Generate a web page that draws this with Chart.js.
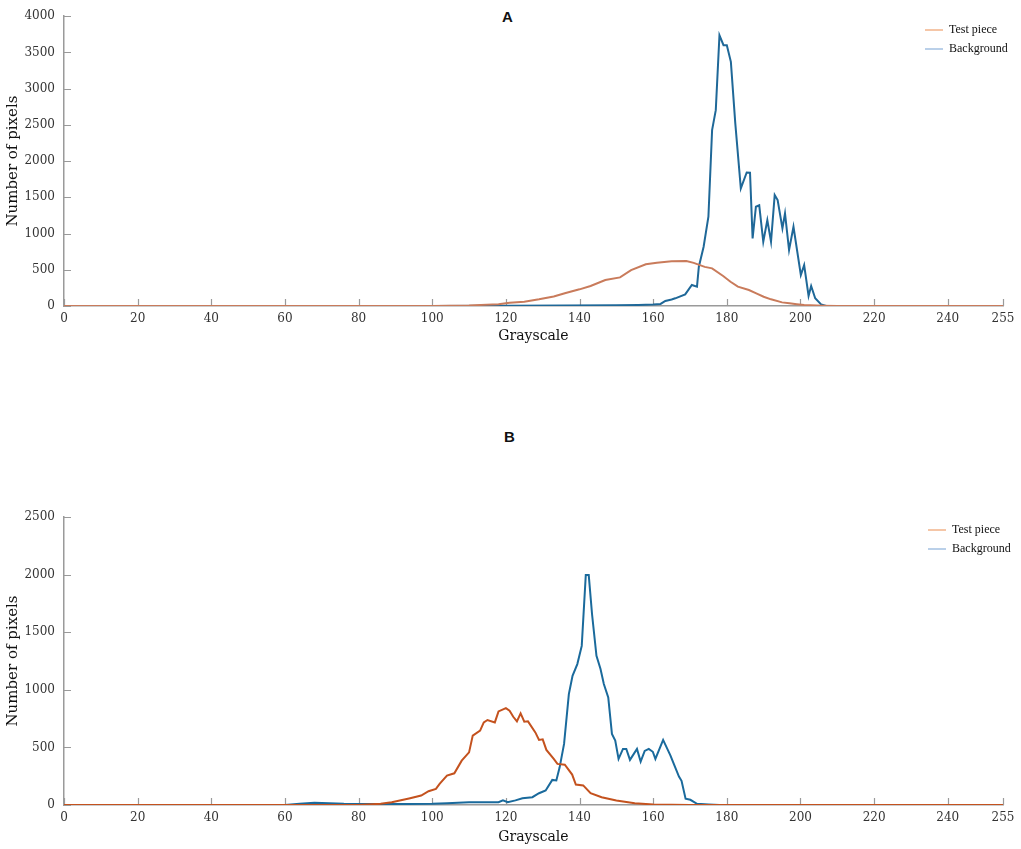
<!DOCTYPE html>
<html lang="en">
<head>
  <meta charset="UTF-8">
  <title>Grayscale histograms</title>
  <style>
    body {
      margin: 0;
      background: #ffffff;
      width: 1021px;
      height: 849px;
      position: relative;
      overflow: hidden;
    }
    canvas {
      position: absolute;
      left: 0;
    }
    #chartA { top: 0; }
    #chartB { top: 420px; }
    .panel-title {
      position: absolute;
      font-family: "Liberation Sans", Arial, sans-serif;
      font-weight: bold;
      font-size: 15px;
      color: #111;
    }
  </style>
  <script src="https://cdn.jsdelivr.net/npm/chart.js"></script>
</head>
<body>
  <div class="panel-title" style="left:502px; top:8px;">A</div>
  <div class="panel-title" style="left:504px; top:428px;">B</div>
  <canvas id="chartA" width="1021" height="350"></canvas>
  <canvas id="chartB" width="1021" height="429"></canvas>

  <script>
    // tick labels on the grayscale axis
    const grayTicks = [0, 20, 40, 60, 80, 100, 120, 140, 160, 180, 200, 220, 240, 255];

    // panel A - test piece
    const aTestGray = [0, 100, 110, 118, 121, 125, 129, 133, 136, 140,
      143, 147, 151, 154, 158, 161, 165, 169, 171, 174,
      176, 179, 181, 183, 186, 188, 190, 192, 195, 197,
      199, 201, 206, 210, 255];
    const aTestCount = [0, 0, 8, 25, 45, 60, 92, 130, 175, 230,
      276, 358, 395, 496, 575, 598, 616, 620, 595, 540,
      520, 414, 335, 267, 220, 175, 128, 92, 50, 37,
      25, 15, 5, 0, 0];

    // panel A - background
    const aBgGray = [0, 100, 120, 136, 150, 156, 160, 162, 163.3, 165,
      166, 168.7, 170.5, 171.9, 172.4, 173.7, 175, 176, 177, 178,
      179.1, 180, 181.1, 182.3, 183.8, 185.4, 186.3, 187, 187.9, 188.8,
      189.9, 191, 192, 193, 193.8, 195.1, 195.8, 196.9, 198.1, 200.1,
      201, 202.2, 202.9, 204, 205.6, 207, 255];
    const aBgCount = [0, 0, 5, 8, 10, 15, 20, 28, 69, 90,
      106, 161, 290, 267, 543, 818, 1232, 2427, 2703, 3737,
      3600, 3600, 3370, 2520, 1623, 1843, 1840, 933, 1370, 1390,
      887, 1186, 887, 1531, 1462, 1071, 1278, 772, 1094, 428,
      565, 138, 276, 106, 23, 0, 0];

    // panel B - test piece
    const bTestGray = [0, 80, 86, 89, 94, 97, 99, 101, 102, 104,
      106, 108, 110, 111, 113, 114, 115, 117, 118, 120,
      121, 122, 123, 124, 125, 126, 128, 129, 130, 131,
      133, 134, 136, 138, 139, 141, 143, 146, 150, 155,
      160, 170, 255];
    const bTestCount = [0, 0, 10, 24, 59, 82, 120, 140, 184, 255,
      275, 385, 457, 602, 645, 717, 738, 717, 812, 841,
      818, 766, 726, 795, 723, 726, 630, 565, 570, 478,
      400, 357, 350, 264, 178, 170, 102, 68, 39, 15,
      5, 0, 0];

    // panel B - background
    const bBgGray = [0, 60, 64, 68, 72, 76, 80, 90, 100, 104,
      110, 118, 119.2, 120.5, 122.6, 124.5, 127.2, 129, 130.8, 132.6,
      133.7, 134.6, 135.8, 137.1, 138.1, 139.4, 140.6, 141.7, 142.5, 143.4,
      144.6, 145.7, 146.6, 147.8, 148.8, 149.7, 150.6, 151.8, 152.7, 153.7,
      155.6, 156.6, 157.7, 158.8, 159.9, 160.6, 162.7, 164.7, 165.6, 167,
      167.7, 168.8, 170.1, 171.9, 175, 178, 255];
    const bBgCount = [0, 0, 10, 20, 15, 10, 8, 8, 10, 15,
      24, 24, 40, 24, 40, 59, 68, 102, 126, 218,
      213, 327, 530, 963, 1121, 1223, 1381, 1996, 1996, 1656,
      1295, 1180, 1050, 934, 617, 560, 400, 487, 487, 392,
      487, 377, 470, 487, 462, 400, 565, 429, 356, 247,
      210, 54, 45, 10, 5, 0, 0];

    const seriesNames = ['Test piece', 'Background'];

    const serif = '"DejaVu Serif", "Liberation Serif", serif';
    const axisGray = '#9a9a9a';

    function pts(xs, ys) {
      return xs.map((x, i) => ({ x: x, y: ys[i] }));
    }

    // small tick marks pointing into the plot, plus a hand drawn legend
    const innerTicks = {
      id: 'innerTicks',
      beforeDatasetsDraw(chart) {
        const ctx = chart.ctx;
        const area = chart.chartArea;
        const xs = chart.scales.x, ys = chart.scales.y;
        ctx.save();
        ctx.strokeStyle = axisGray;
        ctx.lineWidth = 1.2;
        ctx.beginPath();
        xs.ticks.forEach(t => {
          const px = Math.round(xs.getPixelForValue(t.value)) + 0.5;
          ctx.moveTo(px, area.bottom);
          ctx.lineTo(px, area.bottom - 7);
        });
        ys.ticks.forEach(t => {
          const py = Math.round(ys.getPixelForValue(t.value)) + 0.5;
          ctx.moveTo(area.left, py);
          ctx.lineTo(area.left + 7, py);
        });
        ctx.stroke();
        ctx.restore();
      },
      afterDraw(chart, args, opts) {
        const ctx = chart.ctx;
        ctx.save();
        ctx.font = '12px "Liberation Serif", serif';
        ctx.textBaseline = 'middle';
        chart.data.datasets.forEach((ds, i) => {
          const y = opts.y + i * 19;
          ctx.strokeStyle = opts.swatch[i];
          ctx.lineWidth = 1.5;
          ctx.beginPath();
          ctx.moveTo(opts.x, y);
          ctx.lineTo(opts.x + 18, y);
          ctx.stroke();
          ctx.fillStyle = '#111';
          ctx.fillText(ds.label, opts.x + 24, y);
        });
        ctx.restore();
      }
    };

    function makeChart(id, p) {
      new Chart(document.getElementById(id), {
        type: 'line',
        data: {
          datasets: [
            {
              label: seriesNames[0],
              data: pts(p.testGray, p.testCount),
              borderColor: p.testColor,
              borderWidth: 2,
              pointRadius: 0,
              tension: 0
            },
            {
              label: seriesNames[1],
              data: pts(p.bgGray, p.bgCount),
              borderColor: p.bgColor,
              borderWidth: 2,
              pointRadius: 0,
              tension: 0
            }
          ]
        },
        options: {
          responsive: false,
          animation: false,
          layout: { padding: { top: p.padTop, right: 18, bottom: p.padBottom, left: 0 } },
          plugins: {
            legend: { display: false },
            tooltip: { enabled: false },
            innerTicks: { x: p.legX, y: p.legY, swatch: ['#f2b38a', '#a3c1e2'] }
          },
          scales: {
            x: {
              type: 'linear',
              min: 0,
              max: 255,
              afterBuildTicks: s => { s.ticks = grayTicks.map(v => ({ value: v })); },
              afterFit: s => { s.height = p.xHeight; },
              grid: { display: false, drawTicks: false },
              border: { display: true, color: axisGray, width: 1.5 },
              ticks: {
                padding: 6, color: '#333', maxRotation: 0,
                font: { family: serif, size: 12 },
                callback: v => String(v)
              },
              title: {
                display: true,
                text: 'Grayscale',
                color: '#111',
                font: { family: serif, size: 14 },
                padding: { top: 0, bottom: 0 }
              }
            },
            y: {
              min: 0,
              max: p.yMax,
              afterBuildTicks: s => {
                const t = [];
                for (let v = 0; v <= p.yMax; v += 500) t.push({ value: v });
                s.ticks = t;
              },
              afterFit: s => { s.width = 64; },
              grid: { display: false, drawTicks: false },
              border: { display: true, color: axisGray, width: 1.5 },
              ticks: {
                padding: 9, color: '#333',
                font: { family: serif, size: 12 },
                callback: v => String(v)
              },
              title: {
                display: true,
                text: 'Number of pixels',
                color: '#111',
                font: { family: serif, size: 15 },
                padding: { top: 4, bottom: 0 }
              }
            }
          }
        },
        plugins: [innerTicks]
      });
    }

    makeChart('chartA', {
      testGray: aTestGray, testCount: aTestCount,
      bgGray: aBgGray, bgCount: aBgCount,
      testColor: '#c97b5b', bgColor: '#1f6898',
      yMax: 4000, padTop: 16, padBottom: 5, xHeight: 39,
      legX: 925, legY: 30
    });

    makeChart('chartB', {
      testGray: bTestGray, testCount: bTestCount,
      bgGray: bBgGray, bgCount: bBgCount,
      testColor: '#c4521e', bgColor: '#1a6a9c',
      yMax: 2500, padTop: 97, padBottom: 3, xHeight: 41,
      legX: 928, legY: 110
    });
  </script>
</body>
</html>
